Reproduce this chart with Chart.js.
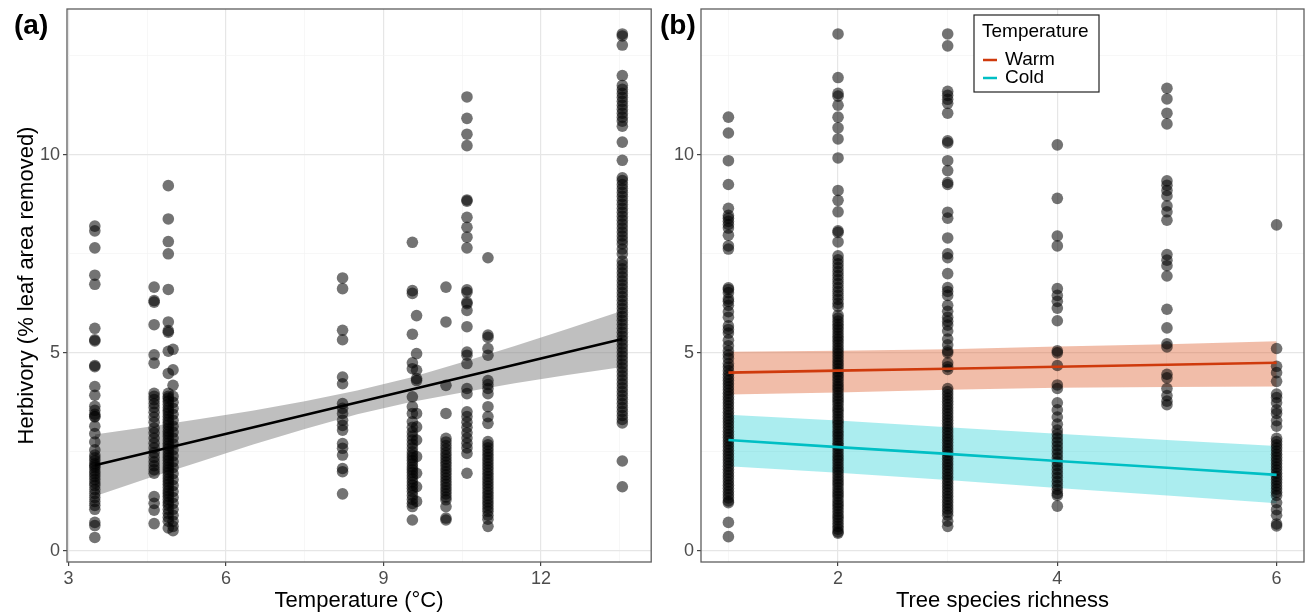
<!DOCTYPE html>
<html>
<head>
<meta charset="utf-8">
<script src="https://cdn.jsdelivr.net/npm/chart.js@4.4.0/dist/chart.umd.min.js"></script>
<style>
  html, body { margin: 0; padding: 0; background: #fff; }
  #wrap { position: relative; width: 1314px; height: 615px; overflow: hidden; }
  canvas { position: absolute; top: 0; }
  #chartA { left: 0; }
  #chartB { left: 657px; }
</style>
</head>
<body>
<div id="wrap">
  <canvas id="chartA" width="657" height="615"></canvas>
  <canvas id="chartB" width="657" height="615"></canvas>
</div>
<script>
// ---- panel (a): herbivory vs site temperature ----
const tempLevels = [3.5, 4.63, 4.9, 4.99, 8.22, 9.55, 9.63, 10.19, 10.59, 10.99, 13.55];
const herbByTemp = [
  [8.2, 8.08, 7.65, 6.96, 6.73, 5.62, 5.33, 5.3, 4.68, 4.65, 4.15, 3.93, 3.65, 3.55, 3.45, 3.4, 3.38, 3.15, 2.96, 2.75, 2.55, 2.42, 2.35, 2.28, 2.2, 2.15, 2.1, 2.02, 1.95, 1.88, 1.8, 1.72, 1.65, 1.55, 1.45, 1.35, 1.25, 1.15, 1.05, 0.72, 0.64, 0.34],
  [6.66, 6.32, 6.28, 5.71, 4.95, 4.74, 3.98, 3.9, 3.82, 3.72, 3.62, 3.5, 3.38, 3.25, 3.1, 2.98, 2.85, 2.72, 2.6, 2.48, 2.36, 2.25, 2.15, 2.05, 1.96, 1.37, 1.2, 1.03, 0.69],
  [9.22, 8.38, 7.81, 7.5, 6.6, 5.78, 5.56, 5.52, 5.04, 4.48, 3.98, 3.9, 3.85, 3.78, 3.7, 3.62, 3.55, 3.48, 3.4, 3.32, 3.25, 3.18, 3.1, 3.02, 2.95, 2.88, 2.8, 2.72, 2.65, 2.58, 2.5, 2.42, 2.35, 2.28, 2.2, 2.12, 2.05, 1.98, 1.9, 1.82, 1.75, 1.68, 1.6, 1.52, 1.45, 1.38, 1.3, 1.22, 1.15, 1.05, 0.95, 0.85, 0.75, 0.58],
  [5.09, 4.57, 4.18, 3.9, 3.75, 3.6, 3.45, 3.3, 3.15, 3.0, 2.85, 2.7, 2.55, 2.4, 2.25, 2.1, 1.95, 1.8, 1.65, 1.5, 1.35, 1.2, 1.05, 0.9, 0.75, 0.62, 0.51],
  [6.89, 6.62, 5.57, 5.33, 4.39, 4.22, 3.72, 3.6, 3.47, 3.3, 3.17, 3.05, 2.71, 2.59, 2.42, 2.08, 2.0, 1.44],
  [7.79, 6.57, 6.5, 5.47, 4.75, 4.6, 3.89, 3.64, 3.47, 3.26, 3.12, 3.0, 2.9, 2.8, 2.7, 2.6, 2.5, 2.42, 2.35, 2.28, 2.2, 2.12, 2.05, 1.98, 1.9, 1.82, 1.74, 1.66, 1.58, 1.5, 1.4, 1.3, 1.2, 1.12, 0.78],
  [5.94, 4.98, 4.56, 4.35, 4.3, 3.47, 3.13, 2.8, 2.38, 1.96, 1.62, 1.25],
  [6.66, 5.78, 4.18, 3.47, 2.84, 2.75, 2.66, 2.57, 2.48, 2.4, 2.32, 2.24, 2.16, 2.08, 2.0, 1.92, 1.84, 1.76, 1.68, 1.6, 1.52, 1.44, 1.36, 1.29, 1.12, 0.83, 0.78],
  [11.46, 10.92, 10.52, 10.23, 8.86, 8.83, 8.42, 8.17, 7.92, 7.65, 6.59, 6.53, 6.28, 6.24, 6.07, 5.66, 5.02, 4.94, 4.73, 4.1, 3.97, 3.51, 3.39, 3.25, 3.12, 2.98, 2.85, 2.72, 2.6, 2.46, 1.96],
  [7.4, 5.45, 5.39, 5.11, 4.94, 4.3, 4.2, 4.1, 3.97, 3.64, 3.39, 3.22, 2.76, 2.68, 2.6, 2.52, 2.44, 2.36, 2.28, 2.2, 2.12, 2.04, 1.96, 1.88, 1.8, 1.72, 1.64, 1.56, 1.48, 1.4, 1.32, 1.24, 1.16, 1.08, 1.0, 0.9, 0.8, 0.62],
  [13.05, 13.0, 12.77, 12.0, 11.75, 11.65, 11.55, 11.45, 11.35, 11.25, 11.15, 11.05, 10.95, 10.85, 10.72, 10.32, 9.86, 9.42, 9.35, 9.25, 9.15, 9.05, 8.95, 8.85, 8.75, 8.65, 8.55, 8.45, 8.35, 8.25, 8.15, 8.05, 7.95, 7.85, 7.75, 7.62, 7.5, 7.32, 7.22, 7.12, 7.02, 6.92, 6.82, 6.72, 6.62, 6.52, 6.42, 6.32, 6.22, 6.12, 6.02, 5.92, 5.82, 5.72, 5.62, 5.52, 5.42, 5.32, 5.22, 5.12, 5.02, 4.92, 4.82, 4.72, 4.62, 4.52, 4.42, 4.32, 4.22, 4.12, 4.02, 3.92, 3.82, 3.72, 3.62, 3.52, 3.42, 3.32, 3.23, 2.27, 1.62]
];
const fitTempX = [3.5, 13.55];
const fitTempY = [2.16, 5.35];
const ciTempX = [3.5, 4.5, 5.5, 6.5, 7.5, 8.5, 9.5, 10.5, 11.5, 12.5, 13.55];
const ciTempUpper = [2.94, 3.13, 3.33, 3.54, 3.78, 4.05, 4.37, 4.76, 5.17, 5.60, 6.06];
const ciTempLower = [1.38, 1.83, 2.25, 2.68, 3.08, 3.45, 3.75, 4.00, 4.23, 4.44, 4.64];
const tempTicks = [3, 4.5, 6, 7.5, 9, 10.5, 12, 13.5];
const tempMajor = [3, 6, 9, 12];

// ---- panel (b): herbivory vs tree species richness ----
const richLevels = [1, 2, 3, 4, 5, 6];
const herbByRich = [
  [10.95, 10.55, 9.85, 9.25, 8.65, 8.47, 8.4, 8.32, 8.24, 8.15, 7.97, 7.7, 7.62, 6.64, 6.6, 6.52, 6.36, 6.3, 6.2, 6.04, 5.9, 5.68, 5.59, 5.5, 5.32, 5.18, 5.05, 4.95, 4.86, 4.73, 4.64, 4.55, 4.46, 4.38, 4.3, 4.22, 4.14, 4.06, 3.98, 3.9, 3.82, 3.74, 3.66, 3.58, 3.5, 3.42, 3.34, 3.26, 3.18, 3.1, 3.02, 2.94, 2.86, 2.78, 2.7, 2.62, 2.54, 2.46, 2.38, 2.3, 2.22, 2.14, 2.06, 1.98, 1.9, 1.82, 1.74, 1.66, 1.58, 1.5, 1.42, 1.34, 1.26, 1.22, 0.72, 0.36],
  [13.05, 11.95, 11.55, 11.48, 11.25, 10.95, 10.68, 10.4, 9.92, 9.1, 8.85, 8.56, 8.08, 8.04, 7.8, 7.45, 7.35, 7.25, 7.15, 7.05, 6.95, 6.85, 6.75, 6.65, 6.55, 6.45, 6.35, 6.25, 6.17, 5.95, 5.88, 5.8, 5.72, 5.65, 5.58, 5.5, 5.42, 5.35, 5.28, 5.2, 5.12, 5.05, 4.98, 4.9, 4.82, 4.75, 4.68, 4.6, 4.52, 4.45, 4.38, 4.3, 4.22, 4.15, 4.08, 4.0, 3.92, 3.85, 3.78, 3.7, 3.62, 3.55, 3.48, 3.4, 3.32, 3.25, 3.18, 3.1, 3.02, 2.95, 2.88, 2.8, 2.72, 2.65, 2.58, 2.5, 2.42, 2.35, 2.28, 2.2, 2.12, 2.05, 1.98, 1.9, 1.82, 1.75, 1.68, 1.6, 1.52, 1.45, 1.38, 1.3, 1.22, 1.15, 1.08, 1.0, 0.92, 0.85, 0.78, 0.7, 0.62, 0.55, 0.48, 0.45],
  [13.05, 12.75, 11.6, 11.5, 11.4, 11.3, 11.05, 10.35, 10.3, 9.85, 9.6, 9.3, 9.25, 8.55, 8.4, 7.9, 7.5, 7.4, 7.0, 6.65, 6.55, 6.45, 6.2, 6.05, 5.9, 5.8, 5.7, 5.55, 5.35, 5.2, 5.05, 5.0, 4.75, 4.65, 4.58, 4.1, 4.02, 3.94, 3.86, 3.78, 3.7, 3.62, 3.54, 3.46, 3.38, 3.3, 3.22, 3.14, 3.06, 2.98, 2.9, 2.82, 2.74, 2.66, 2.58, 2.5, 2.42, 2.34, 2.26, 2.18, 2.1, 2.02, 1.94, 1.86, 1.78, 1.7, 1.62, 1.54, 1.46, 1.38, 1.3, 1.22, 1.14, 1.06, 0.98, 0.9, 0.75, 0.62],
  [10.25, 8.9, 7.95, 7.7, 6.62, 6.45, 6.3, 6.13, 5.81, 5.05, 5.0, 4.68, 4.19, 4.1, 3.74, 3.56, 3.38, 3.2, 3.05, 2.95, 2.85, 2.75, 2.65, 2.55, 2.45, 2.35, 2.25, 2.15, 2.05, 1.95, 1.85, 1.75, 1.65, 1.55, 1.45, 1.4, 1.13],
  [11.68, 11.41, 11.05, 10.78, 9.34, 9.23, 9.1, 8.96, 8.71, 8.56, 8.35, 7.48, 7.34, 7.2, 6.94, 6.1, 5.63, 5.23, 5.15, 4.46, 4.37, 4.1, 3.92, 3.78, 3.69],
  [8.23, 5.11, 4.66, 4.5, 4.28, 3.96, 3.87, 3.74, 3.56, 3.47, 3.29, 3.15, 2.84, 2.76, 2.68, 2.6, 2.52, 2.44, 2.36, 2.28, 2.2, 2.12, 2.04, 1.96, 1.88, 1.8, 1.72, 1.64, 1.56, 1.48, 1.4, 1.22, 1.04, 0.9, 0.68, 0.63]
];
const fitRichX = [1, 2, 3, 4, 5, 6];
const warmFit = [4.5, 4.55, 4.6, 4.65, 4.7, 4.75];
const warmUpper = [5.03, 5.05, 5.09, 5.16, 5.22, 5.29];
const warmLower = [3.95, 4.0, 4.07, 4.12, 4.14, 4.15];
const coldFit = [2.8, 2.62, 2.45, 2.27, 2.1, 1.92];
const coldUpper = [3.44, 3.29, 3.12, 2.96, 2.8, 2.65];
const coldLower = [2.14, 1.97, 1.79, 1.59, 1.4, 1.2];
const richTicks = [1, 2, 3, 4, 5, 6];
const richMajor = [2, 4, 6];

const herbTicks = [0, 2.5, 5, 7.5, 10, 12.5];
const herbMajor = [0, 5, 10];

const family = '"Liberation Sans", Arial, Helvetica, sans-serif';
Chart.defaults.font.family = family;
Chart.defaults.color = '#4d4d4d';

const pts = (xs, ys) => xs.map((x, i) => ({x: x, y: ys[i]}));
const column = (levels, lists) => levels.flatMap((x, i) => lists[i].map(y => ({x: x, y: y})));

// panel frame + (a)/(b) tag
const frame = {
  id: 'frame',
  afterDraw(chart, args, o) {
    const {ctx, chartArea: a} = chart;
    ctx.save();
    ctx.strokeStyle = '#5e5e5e';
    ctx.lineWidth = 1.3;
    ctx.strokeRect(a.left, a.top, a.right - a.left, a.bottom - a.top);
    ctx.fillStyle = '#000';
    ctx.font = 'bold 28px ' + family;
    ctx.textBaseline = 'middle';
    ctx.fillText(o.tag, o.tagX, 26);
    ctx.restore();
  }
};

// legend box for panel (b)
const keyBox = {
  id: 'keyBox',
  afterDraw(chart, args, o) {
    if (!o.show) return;
    const ctx = chart.ctx;
    const items = chart.data.datasets.filter(d => d.isFit);
    ctx.save();
    ctx.fillStyle = '#fff';
    ctx.fillRect(o.x, o.y, o.w, o.h);
    ctx.strokeStyle = '#222';
    ctx.lineWidth = 1.2;
    ctx.strokeRect(o.x, o.y, o.w, o.h);
    ctx.fillStyle = '#000';
    ctx.font = '19px ' + family;
    ctx.textBaseline = 'middle';
    ctx.fillText(o.title, o.x + 8, o.y + 17);
    items.forEach((d, i) => {
      const cy = o.y + 45 + i * 18;
      ctx.strokeStyle = d.borderColor;
      ctx.lineWidth = 2.5;
      ctx.beginPath();
      ctx.moveTo(o.x + 9, cy);
      ctx.lineTo(o.x + 23, cy);
      ctx.stroke();
      ctx.fillText(d.label, o.x + 31, cy);
    });
    ctx.restore();
  }
};

function gridFor(major) {
  const isMaj = c => c.tick && major.includes(c.tick.value);
  return {
    color: c => isMaj(c) ? '#e6e6e6' : '#f1f1f1',
    lineWidth: c => isMaj(c) ? 1.2 : 0.6,
    tickColor: c => isMaj(c) ? '#444' : 'rgba(0,0,0,0)',
    tickLength: 4,
    drawTicks: true
  };
}

function axis(o) {
  return {
    type: 'linear',
    min: o.min,
    max: o.max,
    afterBuildTicks: s => { s.ticks = o.ticks.map(v => ({value: v})); },
    afterFit: s => {
      if (o.size.w) s.width = o.size.w;
      if (o.size.h) s.height = o.size.h;
      s.paddingTop = 0; s.paddingBottom = 0; s.paddingLeft = 0; s.paddingRight = 0;
    },
    ticks: {
      autoSkip: false,
      maxRotation: 0,
      padding: o.pad,
      font: {size: 18},
      color: '#4d4d4d',
      callback: v => o.major.includes(v) ? String(v) : ''
    },
    grid: gridFor(o.major),
    border: {display: false},
    title: o.title ? {display: true, text: o.title, color: '#000', font: {size: 22}, padding: o.titlePad} : {display: false}
  };
}

function panel(id, datasets, xAxis, yAxis, pad, plug) {
  return new Chart(document.getElementById(id), {
    type: 'scatter',
    data: {datasets: datasets},
    options: {
      responsive: false,
      animation: false,
      devicePixelRatio: 1,
      layout: {padding: pad},
      scales: {x: xAxis, y: yAxis},
      plugins: Object.assign({legend: {display: false}, tooltip: {enabled: false}}, plug)
    },
    plugins: [frame, keyBox]
  });
}

const dotStyle = {
  backgroundColor: 'rgba(0,0,0,0.55)',
  borderWidth: 0,
  pointRadius: 5.8,
  order: 2
};

// panel (a)
panel('chartA', [
  Object.assign({label: 'Herbivory', data: column(tempLevels, herbByTemp)}, dotStyle),
  {type: 'line', label: 'upper', data: pts(ciTempX, ciTempUpper), borderWidth: 0, pointRadius: 0,
   backgroundColor: 'rgba(128,128,128,0.5)', fill: '+1', order: 3},
  {type: 'line', label: 'lower', data: pts(ciTempX, ciTempLower), borderWidth: 0, pointRadius: 0, fill: false, order: 3},
  {type: 'line', label: 'fit', data: pts(fitTempX, fitTempY), borderColor: '#000', borderWidth: 2.6, pointRadius: 0, fill: false, order: 0}
],
  axis({min: 2.97, max: 14.1, ticks: tempTicks, major: tempMajor, size: {h: 53}, pad: 2,
        title: 'Temperature (°C)', titlePad: {top: 0, bottom: 1}}),
  axis({min: -0.28, max: 13.68, ticks: herbTicks, major: herbMajor, size: {w: 67}, pad: 3,
        title: 'Herbivory (% leaf area removed)', titlePad: {top: 14, bottom: 0}}),
  {left: 0, right: 3, top: 9, bottom: 0},
  {frame: {tag: '(a)', tagX: 14}, keyBox: {show: false}}
);

// panel (b)
panel('chartB', [
  Object.assign({label: 'Herbivory', data: column(richLevels, herbByRich)}, dotStyle),
  {type: 'line', label: 'warmUpper', data: pts(fitRichX, warmUpper), borderWidth: 0, pointRadius: 0,
   backgroundColor: 'rgba(220,90,40,0.4)', fill: '+1', order: 3},
  {type: 'line', label: 'warmLower', data: pts(fitRichX, warmLower), borderWidth: 0, pointRadius: 0, fill: false, order: 3},
  {type: 'line', label: 'coldUpper', data: pts(fitRichX, coldUpper), borderWidth: 0, pointRadius: 0,
   backgroundColor: 'rgba(0,200,205,0.33)', fill: '+1', order: 3},
  {type: 'line', label: 'coldLower', data: pts(fitRichX, coldLower), borderWidth: 0, pointRadius: 0, fill: false, order: 3},
  {type: 'line', label: 'Warm', isFit: true, data: pts(fitRichX, warmFit), borderColor: '#cf3a0c', borderWidth: 2.6, pointRadius: 0, fill: false, order: 0},
  {type: 'line', label: 'Cold', isFit: true, data: pts(fitRichX, coldFit), borderColor: '#00bfc4', borderWidth: 2.6, pointRadius: 0, fill: false, order: 0}
],
  axis({min: 0.75, max: 6.25, ticks: richTicks, major: richMajor, size: {h: 53}, pad: 2,
        title: 'Tree species richness', titlePad: {top: 0, bottom: 1}}),
  axis({min: -0.28, max: 13.68, ticks: herbTicks, major: herbMajor, size: {w: 44}, pad: 3}),
  {left: 0, right: 10, top: 9, bottom: 0},
  {frame: {tag: '(b)', tagX: 3}, keyBox: {show: true, x: 317, y: 15, w: 125, h: 77, title: 'Temperature'}}
);
</script>
</body>
</html>
